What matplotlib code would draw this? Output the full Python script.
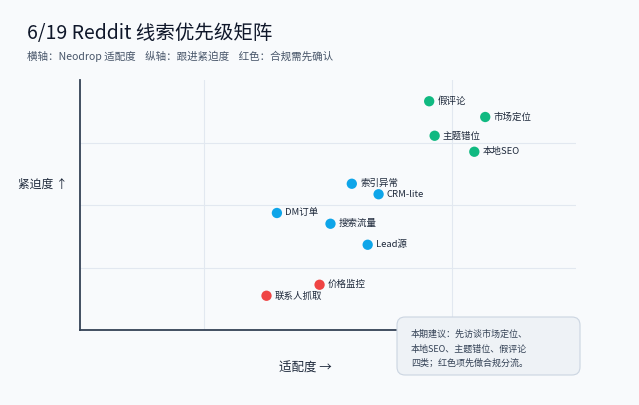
import matplotlib.pyplot as plt
from matplotlib.patches import FancyBboxPatch

plt.rcParams['font.family'] = ['Noto Sans CJK SC', 'DejaVu Sans']

# --- данні ---
labels = ["假评论", "市场定位", "主题错位", "本地SEO",
          "索引异常", "CRM-lite", "DM订单", "搜索流量", "Lead源",
          "价格监控", "联系人抓取"]
fit = [70.4, 81.7, 71.5, 79.5, 54.8, 60.2, 39.7, 50.5, 58.0, 48.3, 37.6]
urgency = [91.5, 85.2, 77.7, 71.3, 58.5, 54.3, 46.8, 42.5, 34.1, 18.1, 13.7]
groups = ["go", "go", "go", "go", "mid", "mid", "mid", "mid", "mid", "risk", "risk"]
group_colors = {"go": "#10b981", "mid": "#0ea5e9", "risk": "#ef4444"}

title = "6/19 Reddit 线索优先级矩阵"
subtitle = "横轴：Neodrop 适配度    纵轴：跟进紧迫度    红色：合规需先确认"
note = "本期建议：先访谈市场定位、\n本地SEO、主题错位、假评论\n四类；红色项先做合规分流。"

BG = "#f8fafc"

fig = plt.figure(figsize=(6.39, 4.05), dpi=100, facecolor=BG)
ax = fig.add_axes([80 / 639, 75 / 405, 496 / 639, 250 / 405])
ax.set_facecolor(BG)
ax.set_xlim(0, 100)
ax.set_ylim(0, 100)

# сітка
for gx in (25, 75):
    ax.axvline(gx, color="#e2e8f0", lw=0.8, zorder=0)
for gy in (25, 50, 75):
    ax.axhline(gy, color="#e2e8f0", lw=0.8, zorder=0)

for s in ("top", "right"):
    ax.spines[s].set_visible(False)
for s in ("left", "bottom"):
    ax.spines[s].set_color("#334155")
    ax.spines[s].set_linewidth(1.3)
ax.set_xticks([])
ax.set_yticks([])

# точки
cols = [group_colors[g] for g in groups]
ax.scatter(fit, urgency, s=55, c=cols, edgecolors="none", zorder=3)
for lab, x, y in zip(labels, fit, urgency):
    ax.annotate(lab, (x, y), xytext=(6, 0), textcoords="offset points",
                va="center", ha="left", fontsize=6.8, color="#1e293b", zorder=4)

# підписи осей
fig.text(68 / 639, 1 - 184 / 405, "紧迫度 ↑", ha="right", va="center",
         fontsize=8.5, color="#1e293b")
fig.text(305 / 639, 1 - 368 / 405, "适配度 →", ha="center", va="center",
         fontsize=9, color="#1e293b")

# заголовок
fig.text(27 / 639, 1 - 33 / 405, title, ha="left", va="center",
         fontsize=14, color="#0f172a")
fig.text(27 / 639, 1 - 56 / 405, subtitle, ha="left", va="center",
         fontsize=7.6, color="#475569")

# примітка
box = FancyBboxPatch((3.97, 0.30), 1.83, 0.58,
                     boxstyle="round,pad=0,rounding_size=0.08",
                     transform=fig.dpi_scale_trans,
                     facecolor="#eef2f6", edgecolor="#cbd5e1", lw=0.8,
                     zorder=10)
fig.patches.append(box)
fig.text(4.11, 4.05 - 3.49, note, transform=fig.dpi_scale_trans,
         ha="left", va="center", fontsize=6.5, color="#334155",
         linespacing=1.75, zorder=11)

plt.savefig("out.png", dpi=100, facecolor=BG)
